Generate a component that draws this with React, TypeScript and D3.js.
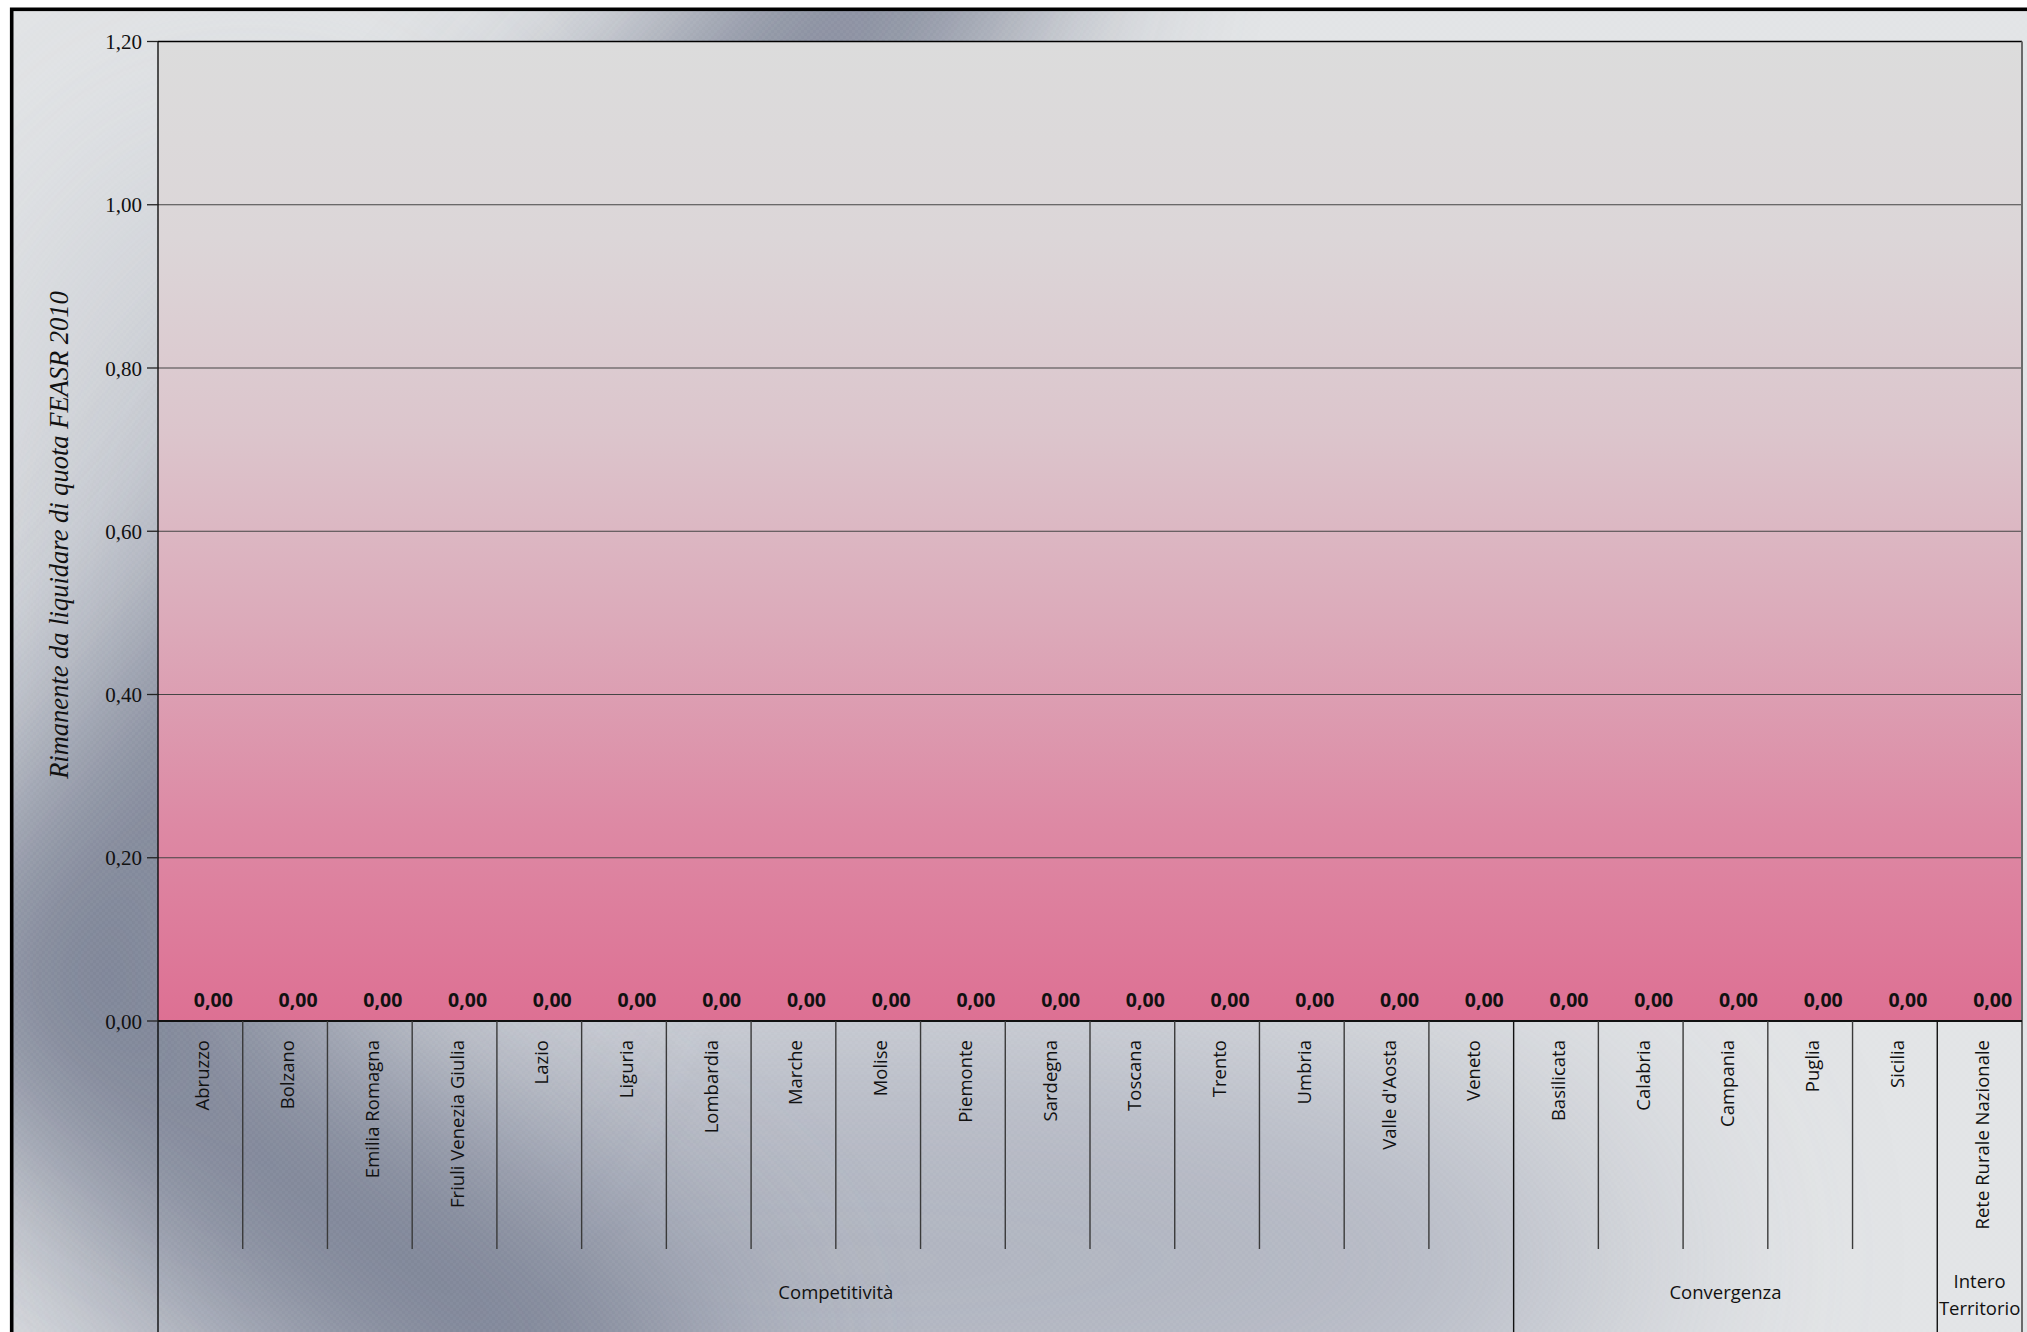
import React from "react";
import * as d3 from "d3";

const categories = [
  "Abruzzo", "Bolzano", "Emilia Romagna", "Friuli Venezia Giulia", "Lazio", "Liguria",
  "Lombardia", "Marche", "Molise", "Piemonte", "Sardegna", "Toscana", "Trento", "Umbria",
  "Valle d'Aosta", "Veneto", "Basilicata", "Calabria", "Campania", "Puglia", "Sicilia",
  "Rete Rurale Nazionale",
];
const categoryGroups = [
  "Competitività", "Competitività", "Competitività", "Competitività", "Competitività",
  "Competitività", "Competitività", "Competitività", "Competitività", "Competitività",
  "Competitività", "Competitività", "Competitività", "Competitività", "Competitività",
  "Competitività", "Convergenza", "Convergenza", "Convergenza", "Convergenza", "Convergenza",
  "Intero Territorio",
];
const groupLabelLines: Record<string, string[]> = {
  "Competitività": ["Competitività"],
  "Convergenza": ["Convergenza"],
  "Intero Territorio": ["Intero", "Territorio"],
};
const values = [0, 0, 0, 0, 0, 0, 0, 0, 0, 0, 0, 0, 0, 0, 0, 0, 0, 0, 0, 0, 0, 0];
const yTicks = [0, 0.2, 0.4, 0.6, 0.8, 1.0, 1.2];
const yTitle = "Rimanente da liquidare di quota FEASR 2010";

const W = 2027;
const H = 1332;
const PL = 158;
const PR = 2022;
const PT = 41.5;
const PB = 1021;

const fmt = (v: number) => d3.format(".2f")(v).replace(".", ",");

export default function App() {
  const x = d3.scaleBand<string>().domain(categories).range([PL, PR]).padding(0);
  const y = d3.scaleLinear().domain([0, 1.2]).range([PB, PT]);
  const bw = x.bandwidth();

  const groupRuns: { name: string; start: number; end: number }[] = [];
  categoryGroups.forEach((g, i) => {
    const last = groupRuns[groupRuns.length - 1];
    if (last && last.name === g) last.end = i;
    else groupRuns.push({ name: g, start: i, end: i });
  });

  const sans = "'Open Sans', 'Noto Sans', sans-serif";
  const serif = "'Liberation Serif', 'DejaVu Serif', serif";

  return (
    <svg
      width={W}
      height={H}
      style={{ position: "absolute", left: 0, top: 0, display: "block" }}
    >
      <defs>
        <linearGradient id="plotGrad" x1="0" y1="0" x2="0" y2="1">
          <stop offset="0%" stopColor="#dcdcdc" />
          <stop offset="20%" stopColor="#dcd6d8" />
          <stop offset="40%" stopColor="#dcc5cc" />
          <stop offset="60%" stopColor="#dca9b9" />
          <stop offset="80%" stopColor="#dd89a4" />
          <stop offset="100%" stopColor="#dd7093" />
        </linearGradient>
        <filter id="blurBig" x="-50%" y="-50%" width="200%" height="200%">
          <feGaussianBlur stdDeviation="100" />
        </filter>
        <filter id="blurMid" x="-50%" y="-50%" width="200%" height="200%">
          <feGaussianBlur stdDeviation="130" />
        </filter>
        <pattern id="checker" width="6" height="6" patternUnits="userSpaceOnUse">
          <rect x="0" y="0" width="3" height="3" fill="#ffffff" opacity="0.035" />
          <rect x="3" y="3" width="3" height="3" fill="#ffffff" opacity="0.035" />
        </pattern>
        <clipPath id="chartClip">
          <rect x={11.7} y={9.3} width={W} height={H} />
        </clipPath>
      </defs>

      <rect x={0} y={0} width={W} height={H} fill="#ffffff" />

      {/* chart area background */}
      <g clipPath="url(#chartClip)">
        <rect x={0} y={0} width={W} height={H} fill="#e2e4e6" />
        <ellipse cx={850} cy={1260} rx={800} ry={260} fill="#9ea3b2" opacity={0.75} filter="url(#blurMid)" />
        <ellipse cx={250} cy={650} rx={250} ry={500} fill="#b4b8c3" opacity={0.6} filter="url(#blurMid)" />
        <path
          d="M 990,-140 L 20,990 L 660,1440"
          fill="none"
          stroke="#747b8f"
          strokeWidth={260}
          strokeLinejoin="round"
          filter="url(#blurBig)"
          opacity={0.95}
        />
        <rect x={0} y={0} width={W} height={H} fill="url(#checker)" />
      </g>

      {/* plot area */}
      <rect x={PL} y={PT} width={PR - PL} height={PB - PT} fill="url(#plotGrad)" />

      {/* gridlines */}
      {yTicks.filter((t) => t > 0 && t < 1.2).map((t) => (
        <line key={"g" + t} x1={PL} x2={PR} y1={y(t)} y2={y(t)} stroke="#454545" strokeWidth={1.2} />
      ))}
      <line x1={PL} x2={PR} y1={y(1.2)} y2={y(1.2)} stroke="#000" strokeWidth={1.5} />
      <line x1={PR} x2={PR} y1={PT} y2={H} stroke="#6a6a6a" strokeWidth={2} />

      {/* bars (second slot of each category) */}
      {values.map((v, i) => (
        <rect
          key={"b" + i}
          x={(x(categories[i]) as number) + bw * 0.5}
          width={bw * 0.3}
          y={y(v)}
          height={y(0) - y(v)}
          fill="#dd7093"
        />
      ))}

      {/* value labels */}
      {values.map((v, i) => (
        <text
          key={"v" + i}
          x={(x(categories[i]) as number) + bw / 2 + 13}
          y={y(v) - 14.5}
          textAnchor="middle"
          fontFamily={sans}
          fontWeight={700}
          fontSize={19.5}
          fill="#111"
        >
          {fmt(v)}
        </text>
      ))}

      {/* y axis */}
      <line x1={PL} x2={PL} y1={PT} y2={H} stroke="#000" strokeWidth={1.3} />
      {yTicks.map((t) => (
        <g key={"t" + t}>
          <line x1={147} x2={PL} y1={y(t)} y2={y(t)} stroke="#222" strokeWidth={1.3} />
          <text
            x={142}
            y={y(t) + 7.5}
            textAnchor="end"
            fontFamily={serif}
            fontSize={21}
            fill="#111"
          >
            {fmt(t)}
          </text>
        </g>
      ))}
      <text
        transform={`translate(68,535) rotate(-90)`}
        textAnchor="middle"
        fontFamily={serif}
        fontStyle="italic"
        fontSize={26.5}
        fill="#111"
      >
        {yTitle}
      </text>

      {/* x axis zero line */}
      <line x1={PL} x2={PR} y1={y(0)} y2={y(0)} stroke="#111" strokeWidth={2.2} />

      {/* category ticks */}
      {categories.map((c, i) => {
        if (i === 0) return null;
        const isGroupStart = categoryGroups[i] !== categoryGroups[i - 1];
        const xx = x(c) as number;
        return (
          <line
            key={"ct" + i}
            x1={xx}
            x2={xx}
            y1={PB}
            y2={isGroupStart ? H : 1249}
            stroke={isGroupStart ? "#111" : "#3a3a3a"}
            strokeWidth={1.4}
          />
        );
      })}

      {/* category labels */}
      {categories.map((c, i) => (
        <text
          key={"cl" + i}
          transform={`translate(${(x(c) as number) + bw / 2 + 9},1040) rotate(-90)`}
          textAnchor="end"
          fontFamily={sans}
          fontSize={18.5}
          fill="#111"
        >
          {c}
        </text>
      ))}

      {/* group labels */}
      {groupRuns.map((g) => {
        const x0 = x(categories[g.start]) as number;
        const x1 = (x(categories[g.end]) as number) + bw;
        const cx = (x0 + x1) / 2;
        const lines = groupLabelLines[g.name];
        return (
          <text key={"gl" + g.name} textAnchor="middle" fontFamily={sans} fontSize={18.5} fill="#111">
            {lines.map((l, k) => (
              <tspan key={k} x={cx} y={lines.length === 1 ? 1299 : 1288 + k * 27}>
                {l}
              </tspan>
            ))}
          </text>
        );
      })}

      {/* outer border */}
      <rect x={11.7} y={9.3} width={W + 20} height={H + 20} fill="none" stroke="#000" strokeWidth={3.6} />
    </svg>
  );
}
